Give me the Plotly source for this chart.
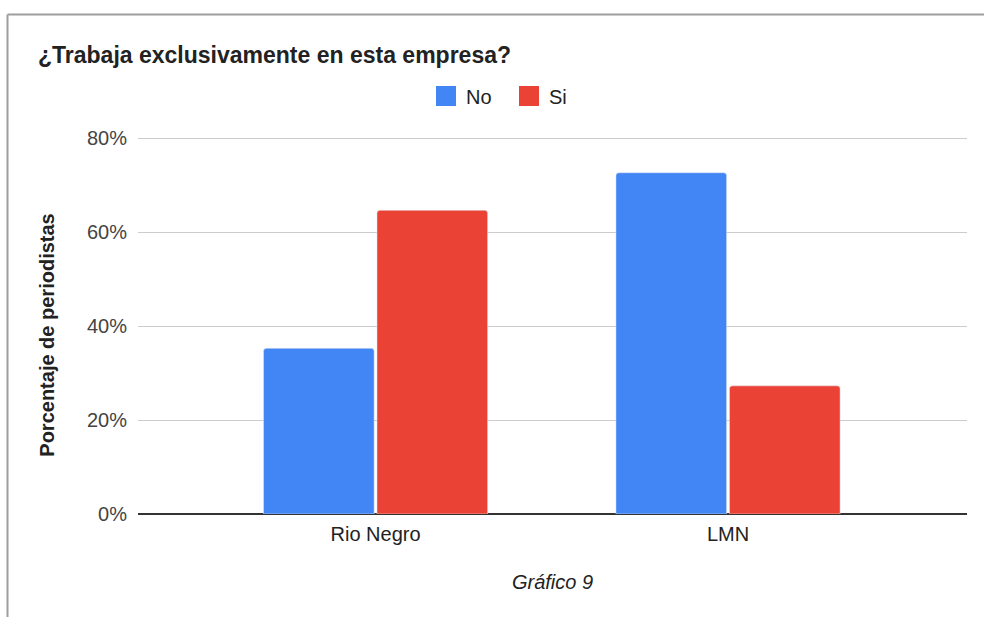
import plotly.graph_objects as go

# Data (percent of journalists)
categories = ["Rio Negro", "LMN"]
no_values = [35.3, 72.7]
si_values = [64.7, 27.3]
series_names = ["No", "Si"]
y_ticks = [0, 20, 40, 60, 80]
y_tick_labels = [f"{v}%" for v in y_ticks]

blue = "#4285f4"
red = "#ea4335"
font_family = "Liberation Sans, Arial, sans-serif"

fig = go.Figure()

fig.add_trace(go.Bar(x=categories, y=no_values, name=series_names[0], marker=dict(color=blue, cornerradius=3),
                     showlegend=False))
fig.add_trace(go.Bar(x=categories, y=si_values, name=series_names[1], marker=dict(color=red, cornerradius=3),
                     showlegend=False))

# Legend entries with larger square swatches
for name, color in zip(series_names, [blue, red]):
    fig.add_trace(go.Scatter(x=[None], y=[None], mode="markers", name=name,
                             marker=dict(symbol="square", size=16, color=color, line=dict(color=color, width=4))))

# plot area spans y 137..514 px; leave a little headroom so the 80% grid line is drawn
top_margin = 134
plot_h = 617 - top_margin - 103
y_top = 80 * plot_h / 377

fig.update_layout(
    width=984, height=617,
    margin=dict(l=138, r=17, t=top_margin, b=103),
    paper_bgcolor="white", plot_bgcolor="white",
    font=dict(family=font_family, size=20, color="#444444"),
    title=dict(text="<b>¿Trabaja exclusivamente en esta empresa?</b>", xref="container", yref="container",
               x=38 / 984, xanchor="left", y=1 - 55 / 617, yanchor="middle",
               font=dict(size=23, color="#222222")),
    legend=dict(orientation="h", xref="container", yref="container", x=509 / 984, xanchor="center",
                y=1 - 96 / 617, yanchor="middle", font=dict(size=20, color="#222222"),
                itemwidth=30, entrywidth=38),
    barmode="group", bargap=0.356, bargroupgap=0.025,
    showlegend=True,
)

fig.update_xaxes(
    type="category", range=[-0.674, 1.678],
    showgrid=False, showline=False, ticks="", ticklabelstandoff=6,
    tickfont=dict(color="#222222"),
    title=dict(text="<i>Gráfico 9</i>", standoff=30, font=dict(size=20, color="#222222")),
)
fig.update_yaxes(
    range=[0, y_top], tickvals=y_ticks, ticktext=y_tick_labels, ticklabelstandoff=10,
    showgrid=True, gridcolor="#cccccc", gridwidth=1,
    zeroline=True, zerolinecolor="#333333", zerolinewidth=1.5,
)

# Y axis title placed as rotated text
fig.add_annotation(text="<b>Porcentaje de periodistas</b>", xref="paper", yref="paper",
                   x=(47 - 138) / 829, xanchor="center", y=(514 - 335) / plot_h, yanchor="middle",
                   textangle=-90, showarrow=False, font=dict(size=20, color="#222222"))

# Outer frame (top and left border of the card)
frame_x = (7.5 - 138) / 829
frame_y = (617 - 103 - 12.5) / plot_h
fig.add_shape(type="line", xref="paper", yref="paper", x0=frame_x, x1=frame_x, y0=-0.3, y1=frame_y,
              line=dict(color="#9e9e9e", width=2))
fig.add_shape(type="line", xref="paper", yref="paper", x0=frame_x, x1=1.03, y0=frame_y, y1=frame_y,
              line=dict(color="#9e9e9e", width=2))

fig.write_html("out.html", config={"displayModeBar": False},
               post_script="document.body.style.margin='0';")
